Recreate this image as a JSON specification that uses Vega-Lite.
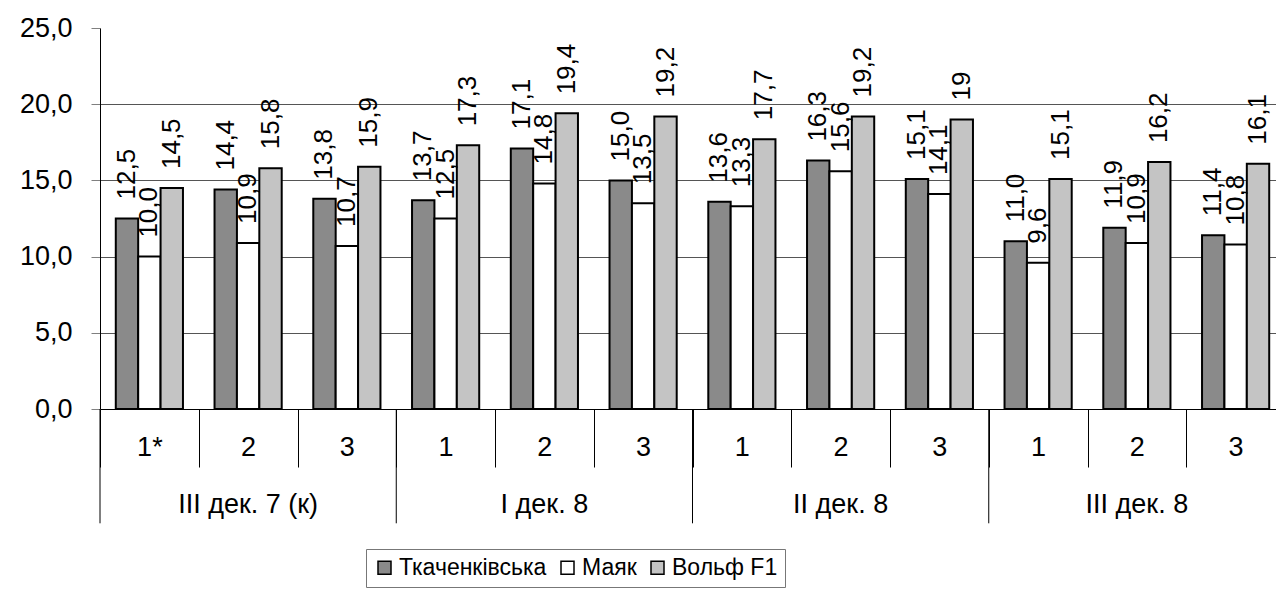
{
  "$schema": "https://vega.github.io/schema/vega-lite/v6.json",
  "width": 1176,
  "height": 381,
  "autosize": {"type": "none"},
  "padding": {"left": 100, "top": 28, "right": 0, "bottom": 190},
  "background": "white",
  "config": {"view": {"stroke": null}, "font": "Liberation Sans"},
  "datasets": {
    "bars": [
      {"group": "III дек. 7 (к)", "slot": "III дек. 7 (к)|1*", "series": "Ткаченківська", "value": 12.5, "label": "12,5"},
      {"group": "III дек. 7 (к)", "slot": "III дек. 7 (к)|1*", "series": "Маяк", "value": 10.0, "label": "10,0"},
      {"group": "III дек. 7 (к)", "slot": "III дек. 7 (к)|1*", "series": "Вольф F1", "value": 14.5, "label": "14,5"},
      {"group": "III дек. 7 (к)", "slot": "III дек. 7 (к)|2", "series": "Ткаченківська", "value": 14.4, "label": "14,4"},
      {"group": "III дек. 7 (к)", "slot": "III дек. 7 (к)|2", "series": "Маяк", "value": 10.9, "label": "10,9"},
      {"group": "III дек. 7 (к)", "slot": "III дек. 7 (к)|2", "series": "Вольф F1", "value": 15.8, "label": "15,8"},
      {"group": "III дек. 7 (к)", "slot": "III дек. 7 (к)|3", "series": "Ткаченківська", "value": 13.8, "label": "13,8"},
      {"group": "III дек. 7 (к)", "slot": "III дек. 7 (к)|3", "series": "Маяк", "value": 10.7, "label": "10,7"},
      {"group": "III дек. 7 (к)", "slot": "III дек. 7 (к)|3", "series": "Вольф F1", "value": 15.9, "label": "15,9"},
      {"group": "I дек. 8", "slot": "I дек. 8|1", "series": "Ткаченківська", "value": 13.7, "label": "13,7"},
      {"group": "I дек. 8", "slot": "I дек. 8|1", "series": "Маяк", "value": 12.5, "label": "12,5"},
      {"group": "I дек. 8", "slot": "I дек. 8|1", "series": "Вольф F1", "value": 17.3, "label": "17,3"},
      {"group": "I дек. 8", "slot": "I дек. 8|2", "series": "Ткаченківська", "value": 17.1, "label": "17,1"},
      {"group": "I дек. 8", "slot": "I дек. 8|2", "series": "Маяк", "value": 14.8, "label": "14,8"},
      {"group": "I дек. 8", "slot": "I дек. 8|2", "series": "Вольф F1", "value": 19.4, "label": "19,4"},
      {"group": "I дек. 8", "slot": "I дек. 8|3", "series": "Ткаченківська", "value": 15.0, "label": "15,0"},
      {"group": "I дек. 8", "slot": "I дек. 8|3", "series": "Маяк", "value": 13.5, "label": "13,5"},
      {"group": "I дек. 8", "slot": "I дек. 8|3", "series": "Вольф F1", "value": 19.2, "label": "19,2"},
      {"group": "II дек. 8", "slot": "II дек. 8|1", "series": "Ткаченківська", "value": 13.6, "label": "13,6"},
      {"group": "II дек. 8", "slot": "II дек. 8|1", "series": "Маяк", "value": 13.3, "label": "13,3"},
      {"group": "II дек. 8", "slot": "II дек. 8|1", "series": "Вольф F1", "value": 17.7, "label": "17,7"},
      {"group": "II дек. 8", "slot": "II дек. 8|2", "series": "Ткаченківська", "value": 16.3, "label": "16,3"},
      {"group": "II дек. 8", "slot": "II дек. 8|2", "series": "Маяк", "value": 15.6, "label": "15,6"},
      {"group": "II дек. 8", "slot": "II дек. 8|2", "series": "Вольф F1", "value": 19.2, "label": "19,2"},
      {"group": "II дек. 8", "slot": "II дек. 8|3", "series": "Ткаченківська", "value": 15.1, "label": "15,1"},
      {"group": "II дек. 8", "slot": "II дек. 8|3", "series": "Маяк", "value": 14.1, "label": "14,1"},
      {"group": "II дек. 8", "slot": "II дек. 8|3", "series": "Вольф F1", "value": 19.0, "label": "19"},
      {"group": "III дек. 8", "slot": "III дек. 8|1", "series": "Ткаченківська", "value": 11.0, "label": "11,0"},
      {"group": "III дек. 8", "slot": "III дек. 8|1", "series": "Маяк", "value": 9.6, "label": "9,6"},
      {"group": "III дек. 8", "slot": "III дек. 8|1", "series": "Вольф F1", "value": 15.1, "label": "15,1"},
      {"group": "III дек. 8", "slot": "III дек. 8|2", "series": "Ткаченківська", "value": 11.9, "label": "11,9"},
      {"group": "III дек. 8", "slot": "III дек. 8|2", "series": "Маяк", "value": 10.9, "label": "10,9"},
      {"group": "III дек. 8", "slot": "III дек. 8|2", "series": "Вольф F1", "value": 16.2, "label": "16,2"},
      {"group": "III дек. 8", "slot": "III дек. 8|3", "series": "Ткаченківська", "value": 11.4, "label": "11,4"},
      {"group": "III дек. 8", "slot": "III дек. 8|3", "series": "Маяк", "value": 10.8, "label": "10,8"},
      {"group": "III дек. 8", "slot": "III дек. 8|3", "series": "Вольф F1", "value": 16.1, "label": "16,1"}
    ],
    "groups": [
      {"group": "III дек. 7 (к)", "start": "III дек. 7 (к)|1*", "mid": "III дек. 7 (к)|2"},
      {"group": "I дек. 8", "start": "I дек. 8|1", "mid": "I дек. 8|2"},
      {"group": "II дек. 8", "start": "II дек. 8|1", "mid": "II дек. 8|2"},
      {"group": "III дек. 8", "start": "III дек. 8|1", "mid": "III дек. 8|2"}
    ]
  },
  "layer": [
    {
      "data": {"name": "bars"},
      "mark": {"type": "bar", "stroke": "#000000", "strokeWidth": 2},
      "encoding": {
        "x": {
          "field": "slot", "type": "nominal",
          "scale": {
            "domain": ["III дек. 7 (к)|1*", "III дек. 7 (к)|2", "III дек. 7 (к)|3", "I дек. 8|1", "I дек. 8|2", "I дек. 8|3", "II дек. 8|1", "II дек. 8|2", "II дек. 8|3", "III дек. 8|1", "III дек. 8|2", "III дек. 8|3"],
            "range": [0, 1185], "paddingInner": 0, "paddingOuter": 0
          },
          "axis": {
            "title": null, "tickBand": "extent", "tickSize": 58, "tickColor": "#000000", "tickWidth": 1,
            "domainColor": "#000000", "domainWidth": 1,
            "labelExpr": "split(datum.value, '|')[1]", "labelFontSize": 27, "labelFont": "Liberation Sans",
            "labelColor": "#000000", "labelPadding": -20, "labelBaseline": "middle", "labelAngle": 0,
            "labelOverlap": false
          }
        },
        "xOffset": {
          "field": "series", "type": "nominal",
          "scale": {"domain": ["Ткаченківська", "Маяк", "Вольф F1"], "paddingInner": 0, "paddingOuter": 0.705}
        },
        "y": {
          "field": "value", "type": "quantitative",
          "scale": {"domain": [0, 25], "nice": false},
          "axis": {
            "title": null, "values": [0, 5, 10, 15, 20, 25],
            "labelExpr": "replace(format(datum.value, '.1f'), '.', ',')",
            "labelFontSize": 27, "labelFont": "Liberation Sans", "labelColor": "#000000", "labelPadding": 19,
            "tickSize": 9, "tickColor": "#808080", "domainColor": "#000000",
            "grid": true, "gridColor": "#555555", "gridWidth": 1,
            "gridOpacity": {"condition": {"test": "datum.value == 25", "value": 0}, "value": 1}
          }
        },
        "color": {
          "field": "series", "type": "nominal",
          "scale": {"domain": ["Ткаченківська", "Маяк", "Вольф F1"], "range": ["#8a8a8a", "#ffffff", "#c4c4c4"]},
          "legend": {
            "title": null, "orient": "none", "legendX": 266, "legendY": 521, "direction": "horizontal", "columns": 3,
            "strokeColor": "#777777", "padding": 7, "symbolType": "square", "symbolSize": 169,
            "symbolStrokeColor": "#000000", "symbolStrokeWidth": 1.5, "labelFontSize": 23, "labelFont": "Liberation Sans",
            "labelColor": "#000000", "labelOffset": 3, "columnPadding": 9
          }
        }
      }
    },
    {
      "data": {"name": "bars"},
      "mark": {"type": "text", "angle": 270, "align": "left", "baseline": "middle", "dx": 19, "fontSize": 26, "font": "Liberation Sans", "color": "#000000"},
      "encoding": {
        "x": {"field": "slot", "type": "nominal", "axis": {"title": null}},
        "xOffset": {"field": "series", "type": "nominal"},
        "y": {"field": "value", "type": "quantitative", "axis": {"title": null}},
        "text": {"field": "label", "type": "nominal"}
      }
    },
    {
      "data": {"name": "groups"},
      "mark": {"type": "rule", "color": "#000000", "strokeWidth": 1},
      "encoding": {
        "x": {"field": "start", "type": "nominal", "bandPosition": 0, "axis": {"title": null}},
        "y": {"datum": 0, "type": "quantitative", "axis": {"title": null}},
        "y2": {"datum": -7.5}
      }
    },
    {
      "data": {"name": "groups"},
      "mark": {"type": "text", "align": "center", "baseline": "middle", "fontSize": 27, "font": "Liberation Sans", "color": "#000000"},
      "encoding": {
        "x": {"field": "mid", "type": "nominal", "axis": {"title": null}},
        "y": {"datum": -6.3, "type": "quantitative", "axis": {"title": null}},
        "text": {"field": "group", "type": "nominal"}
      }
    }
  ]
}
